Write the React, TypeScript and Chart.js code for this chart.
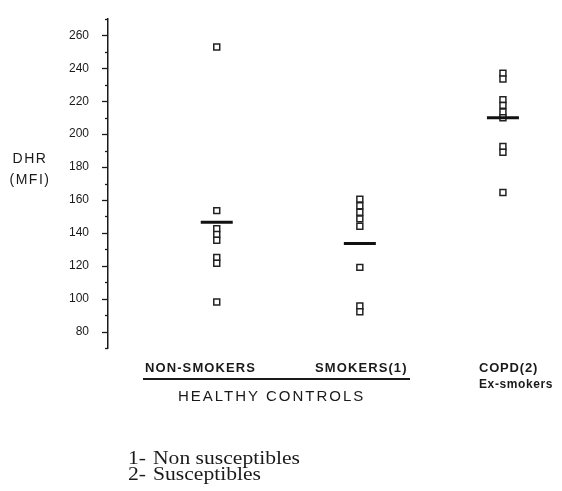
import React, { useEffect, useRef } from "react";
import { Chart, registerables } from "chart.js";

Chart.register(...registerables);

// ---- data ----
const groupNames = ["NON-SMOKERS", "SMOKERS(1)", "COPD(2)"];
const groupPositions = [1, 2, 3];
const nonSmokers = [253, 153.5, 142.5, 139, 135.5, 125, 121.5, 98];
const smokers = [160.5, 156.5, 152.5, 148.5, 144, 119, 95.5, 92];
const copd = [237, 233.5, 221, 217.5, 213.5, 210, 192.5, 189, 164.5];
const groupMeans = [146.5, 133.5, 210];
const yTickLabels = [80, 100, 120, 140, 160, 180, 200, 220, 240, 260];
const yMin = 70;
const yMax = 270;
const footnotes = [
  ["1-", "Non susceptibles"],
  ["2-", "Susceptibles"],
];

const SANS = "'Liberation Sans', Arial, Helvetica, sans-serif";
const SERIF = "'Liberation Serif', 'Times New Roman', serif";
const INK = "#1a1a1a";

const axisTicksPlugin = {
  id: "axisTicks",
  afterDraw(chart: any) {
    const y = chart.scales.y;
    const ctx = chart.ctx;
    const left = chart.chartArea.left;
    ctx.save();
    ctx.strokeStyle = INK;
    ctx.lineWidth = 1.3;
    for (let v = yMin; v <= yMax; v += 10) {
      const py = Math.round(y.getPixelForValue(v)) + 0.5;
      const len = v % 20 === 0 ? 6 : 3;
      ctx.beginPath();
      ctx.moveTo(left - len, py);
      ctx.lineTo(left, py);
      ctx.stroke();
    }
    ctx.restore();
  },
};

function Txt(props: {
  left: number;
  cy: number;
  text: string;
  size: number;
  weight?: number | string;
  spacing?: number;
  family?: string;
  scaleX?: number;
  width?: number;
  align?: "left" | "center";
}) {
  const { left, cy, text, size, weight = "normal", spacing = 0, family = SANS, scaleX = 1, width, align = "left" } = props;
  return (
    <div
      style={{
        position: "absolute",
        left,
        top: cy,
        width,
        textAlign: align,
        transform: `translateY(-50%) scaleX(${scaleX})`,
        transformOrigin: "left center",
        fontFamily: family,
        fontSize: size,
        fontWeight: weight as any,
        letterSpacing: spacing,
        lineHeight: 1,
        whiteSpace: "nowrap",
        color: INK,
      }}
    >
      {text}
    </div>
  );
}

export default function App() {
  const canvasRef = useRef<HTMLCanvasElement>(null);

  useEffect(() => {
    if (!canvasRef.current) return;
    const groups = [nonSmokers, smokers, copd];
    const points = groups.flatMap((arr, i) => arr.map((v) => ({ x: groupPositions[i], y: v })));
    const means = groupMeans.map((v, i) => ({ x: groupPositions[i], y: v }));

    const chart = new Chart(canvasRef.current, {
      type: "scatter",
      data: {
        datasets: [
          {
            label: "mean",
            data: means,
            pointStyle: "line",
            pointRadius: 16,
            pointHoverRadius: 16,
            borderWidth: 3,
            borderColor: "#111",
            backgroundColor: "#111",
            order: 0,
          },
          {
            label: "values",
            data: points,
            pointStyle: "rect",
            pointRadius: 4.2,
            pointHoverRadius: 4.2,
            borderWidth: 1.5,
            borderColor: "#222",
            backgroundColor: "#fff",
            order: 1,
          },
        ],
      },
      options: {
        responsive: false,
        animation: false,
        devicePixelRatio: 1,
        layout: { padding: { top: 7, bottom: 143, left: 0, right: 7 } },
        plugins: { legend: { display: false }, tooltip: { enabled: false } },
        scales: {
          x: { type: "linear", min: 0.24, max: 3.28, display: false },
          y: {
            type: "linear",
            min: yMin,
            max: yMax,
            afterFit: (s: any) => {
              s.width = 108;
            },
            afterBuildTicks: (s: any) => {
              s.ticks = yTickLabels.map((v) => ({ value: v }));
            },
            grid: { display: false },
            border: { display: true, color: INK, width: 1.5 },
            ticks: {
              padding: 11,
              color: INK,
              font: { family: SANS, size: 12 },
            },
          },
        },
      },
      plugins: [axisTicksPlugin],
    });
    return () => chart.destroy();
  }, []);

  return (
    <div style={{ position: "absolute", left: 0, top: 0, width: 562, height: 491, background: "#fff", overflow: "hidden" }}>
      <canvas ref={canvasRef} width={562} height={491} style={{ position: "absolute", left: 0, top: 0, width: 562, height: 491 }} />
      <Txt left={0} width={60} align="center" cy={158} text="DHR" size={14} spacing={1.5} />
      <Txt left={0} width={60} align="center" cy={179} text="(MFI)" size={14} spacing={1.5} />
      <Txt left={145} cy={367} text={groupNames[0]} size={13} weight="bold" spacing={1.1} />
      <Txt left={315} cy={367} text={groupNames[1]} size={13} weight="bold" spacing={1.1} />
      <Txt left={479} cy={367} text={groupNames[2]} size={13} weight="bold" spacing={0.8} />
      <Txt left={479} cy={384} text="Ex-smokers" size={12} weight="bold" spacing={0.6} />
      <div style={{ position: "absolute", left: 143, top: 378, width: 267, height: 2, background: INK }} />
      <Txt left={178} cy={395} text="HEALTHY CONTROLS" size={15} weight={500} spacing={2} />
      {footnotes.map((f, i) => (
        <React.Fragment key={i}>
          <Txt left={128} cy={458 + i * 16} text={f[0]} size={18} family={SERIF} scaleX={1.2} />
          <Txt left={153} cy={458 + i * 16} text={f[1]} size={18} family={SERIF} scaleX={1.2} />
        </React.Fragment>
      ))}
    </div>
  );
}
